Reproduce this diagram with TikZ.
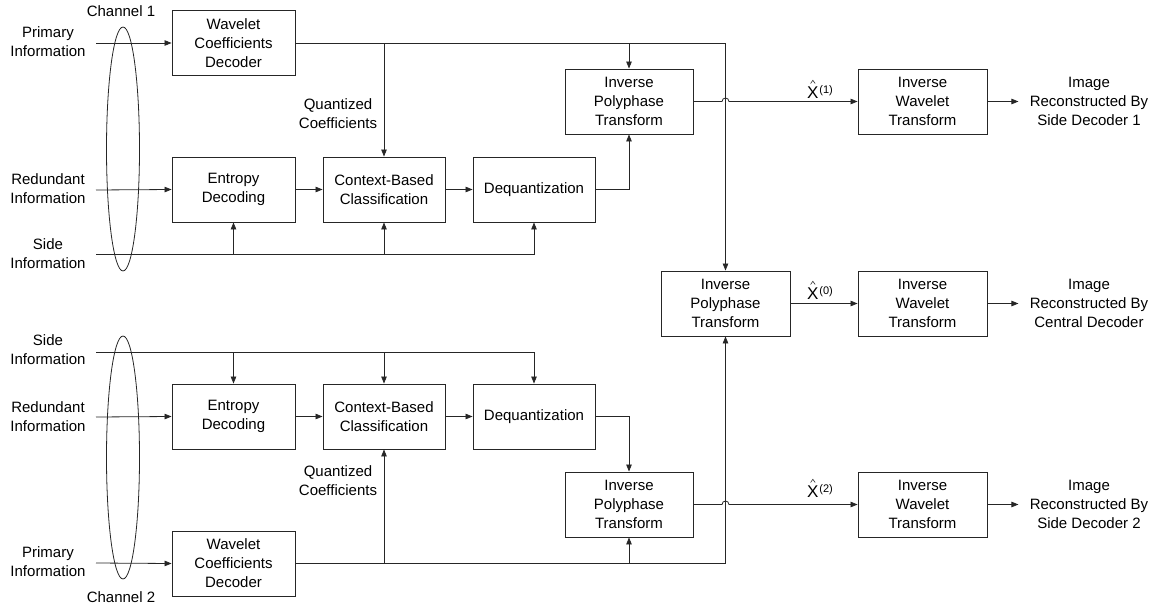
\documentclass[tikz,border=0pt]{standalone}
\usepackage{fontspec}
\setmainfont{Liberation Sans}
\usetikzlibrary{arrows.meta,calc}

\tikzset{
  wire/.style={line width=0.8pt, draw=black!85},
  arr/.style={wire, -{Triangle[length=7pt,width=5.5pt]}},
  blk/.style={draw=black!85, line width=0.9pt, align=center, inner sep=0pt,
              minimum height=65pt, font=\fontsize{15}{19}\selectfont},
  lbl/.style={align=center, inner sep=0pt, font=\fontsize{15}{19}\selectfont},
  est/.style={inner sep=0pt, anchor=base west, font=\fontsize{17}{20}\selectfont},
  idx/.style={inner sep=0pt, anchor=base west, font=\fontsize{11}{12}\selectfont},
  caret/.style={draw=black!85, line width=0.6pt, line join=miter},
  ring/.style={draw=black!85, line width=0.8pt},
}

\begin{document}
\begin{tikzpicture}[x=1pt,y=-1pt]
\useasboundingbox (0,0) rectangle (1163,608);

% ---------- side decoder 1 (upper half) ----------
\node[blk, minimum width=123pt] (wcd1) at (233.5,43)    {Wavelet\\Coefficients\\Decoder};
\node[blk, minimum width=123pt] (ent1) at (233.5,189.5) {Entropy\\Decoding};
\node[blk, minimum width=122pt] (ctx1) at (384,189.5)   {Context-Based\\Classification};
\node[blk, minimum width=122pt] (deq1) at (534,189.5)   {Dequantization};
\node[blk, minimum width=128pt] (ipt1) at (629,101.5)   {Inverse\\Polyphase\\Transform};
\node[blk, minimum width=129pt] (iwt1) at (922.5,101.5) {Inverse\\Wavelet\\Transform};

% ---------- central decoder ----------
\node[blk, minimum width=129pt] (ipt0) at (725.5,303.5) {Inverse\\Polyphase\\Transform};
\node[blk, minimum width=129pt] (iwt0) at (922.5,303.5) {Inverse\\Wavelet\\Transform};

% ---------- side decoder 2 (lower half) ----------
\node[blk, minimum width=123pt] (ent2) at (233.5,416.5) {Entropy\\Decoding};
\node[blk, minimum width=122pt] (ctx2) at (384,416.5)   {Context-Based\\Classification};
\node[blk, minimum width=122pt] (deq2) at (534,416.5)   {Dequantization};
\node[blk, minimum width=128pt] (ipt2) at (629,504.5)   {Inverse\\Polyphase\\Transform};
\node[blk, minimum width=129pt] (iwt2) at (922.5,504.5) {Inverse\\Wavelet\\Transform};
\node[blk, minimum width=123pt] (wcd2) at (233.5,563.5) {Wavelet\\Coefficients\\Decoder};

% ---------- input labels ----------
\node[lbl] (pin1) at (48,42)  {Primary\\Information};
\node[lbl] (rin1) at (48,189) {Redundant\\Information};
\node[lbl] (sin1) at (48,254) {Side\\Information};
\node[lbl] (sin2) at (48,350) {Side\\Information};
\node[lbl] (rin2) at (48,417) {Redundant\\Information};
\node[lbl] (pin2) at (48,562) {Primary\\Information};
\node[lbl] (ch1) at (121,11)  {Channel 1};
\node[lbl] (ch2) at (121,597) {Channel 2};
\node[lbl] (qc1) at (338,114) {Quantized\\Coefficients};
\node[lbl] (qc2) at (338,481) {Quantized\\Coefficients};

% ---------- output labels ----------
\node[lbl] (out1) at (1089,101.5) {Image\\Reconstructed By\\Side Decoder 1};
\node[lbl] (out0) at (1089,303.5) {Image\\Reconstructed By\\Central Decoder};
\node[lbl] (out2) at (1089,504.5) {Image\\Reconstructed By\\Side Decoder 2};

% ---------- estimates X-hat with their index ----------
\node[est] (xh1) at (807,98)  {X};
\node[est] (xh0) at (807,299) {X};
\node[est] (xh2) at (807,497) {X};
\node[idx] (xi1) at ($(xh1.base east)+(0.5,-4.5)$) {(1)};
\node[idx] (xi0) at ($(xh0.base east)+(0.5,-4.5)$) {(0)};
\node[idx] (xi2) at ($(xh2.base east)+(0.5,-4.5)$) {(2)};
\foreach \k in {1,0,2}
  \draw[caret] ($(xh\k.north)+(-2.3,-2.6)$) -- ($(xh\k.north)+(0,-5.8)$) -- ($(xh\k.north)+(2.3,-2.6)$);

% ---------- free line ends ----------
\coordinate (p1) at (96,43);
\coordinate (r1) at (96,190);
\coordinate (s1) at (96,254);
\coordinate (s2) at (96,352);
\coordinate (r2) at (96,417);
\coordinate (p2) at (96,563);
\coordinate (hop1) at (ipt0.north |- ipt1.east);
\coordinate (hop2) at (ipt0.north |- ipt2.east);

% ---------- upper connectors ----------
\draw[arr] (p1) -- (wcd1.west);
\draw[arr] (r1) -- (ent1.west);
\draw[arr] (s1) -- (s1 -| deq1.south) -- (deq1.south);
\draw[arr] (s1 -| ent1.south) -- (ent1.south);
\draw[arr] (s1 -| ctx1.south) -- (ctx1.south);
\draw[arr] (wcd1.east) -- (wcd1.east -| ipt0.north) -- (ipt0.north);
\draw[arr] (wcd1.east -| ctx1.north) -- (ctx1.north);
\draw[arr] (wcd1.east -| ipt1.north) -- (ipt1.north);
\draw[arr] (ent1.east) -- (ctx1.west);
\draw[arr] (ctx1.east) -- (deq1.west);
\draw[arr] (deq1.east) -- (deq1.east -| ipt1.south) -- (ipt1.south);
\draw[arr] (ipt1.east) -- ($(hop1)+(-3.5,0)$)
  .. controls +(0,-4.6) and +(0,-4.6) .. ($(hop1)+(3.5,0)$) -- (iwt1.west);
\draw[arr] (iwt1.east) -- ($(iwt1.east)+(31,0)$);

% ---------- central connectors ----------
\draw[arr] (ipt0.east) -- (iwt0.west);
\draw[arr] (iwt0.east) -- ($(iwt0.east)+(31,0)$);

% ---------- lower connectors ----------
\draw[arr] (s2) -- (s2 -| deq2.north) -- (deq2.north);
\draw[arr] (s2 -| ent2.north) -- (ent2.north);
\draw[arr] (s2 -| ctx2.north) -- (ctx2.north);
\draw[arr] (r2) -- (ent2.west);
\draw[arr] (p2) -- (wcd2.west);
\draw[arr] (wcd2.east) -- (wcd2.east -| ipt0.south) -- (ipt0.south);
\draw[arr] (wcd2.east -| ctx2.south) -- (ctx2.south);
\draw[arr] (wcd2.east -| ipt2.south) -- (ipt2.south);
\draw[arr] (ent2.east) -- (ctx2.west);
\draw[arr] (ctx2.east) -- (deq2.west);
\draw[arr] (deq2.east) -- (deq2.east -| ipt2.north) -- (ipt2.north);
\draw[arr] (ipt2.east) -- ($(hop2)+(-3.5,0)$)
  .. controls +(0,-4.6) and +(0,-4.6) .. ($(hop2)+(3.5,0)$) -- (iwt2.west);
\draw[arr] (iwt2.east) -- ($(iwt2.east)+(31,0)$);

% ---------- channel ellipses ----------
\draw[ring] (123,149) ellipse [x radius=16.5, y radius=122];
\draw[ring] (123,457.5) ellipse [x radius=16.5, y radius=121.5];
\end{tikzpicture}
\end{document}
